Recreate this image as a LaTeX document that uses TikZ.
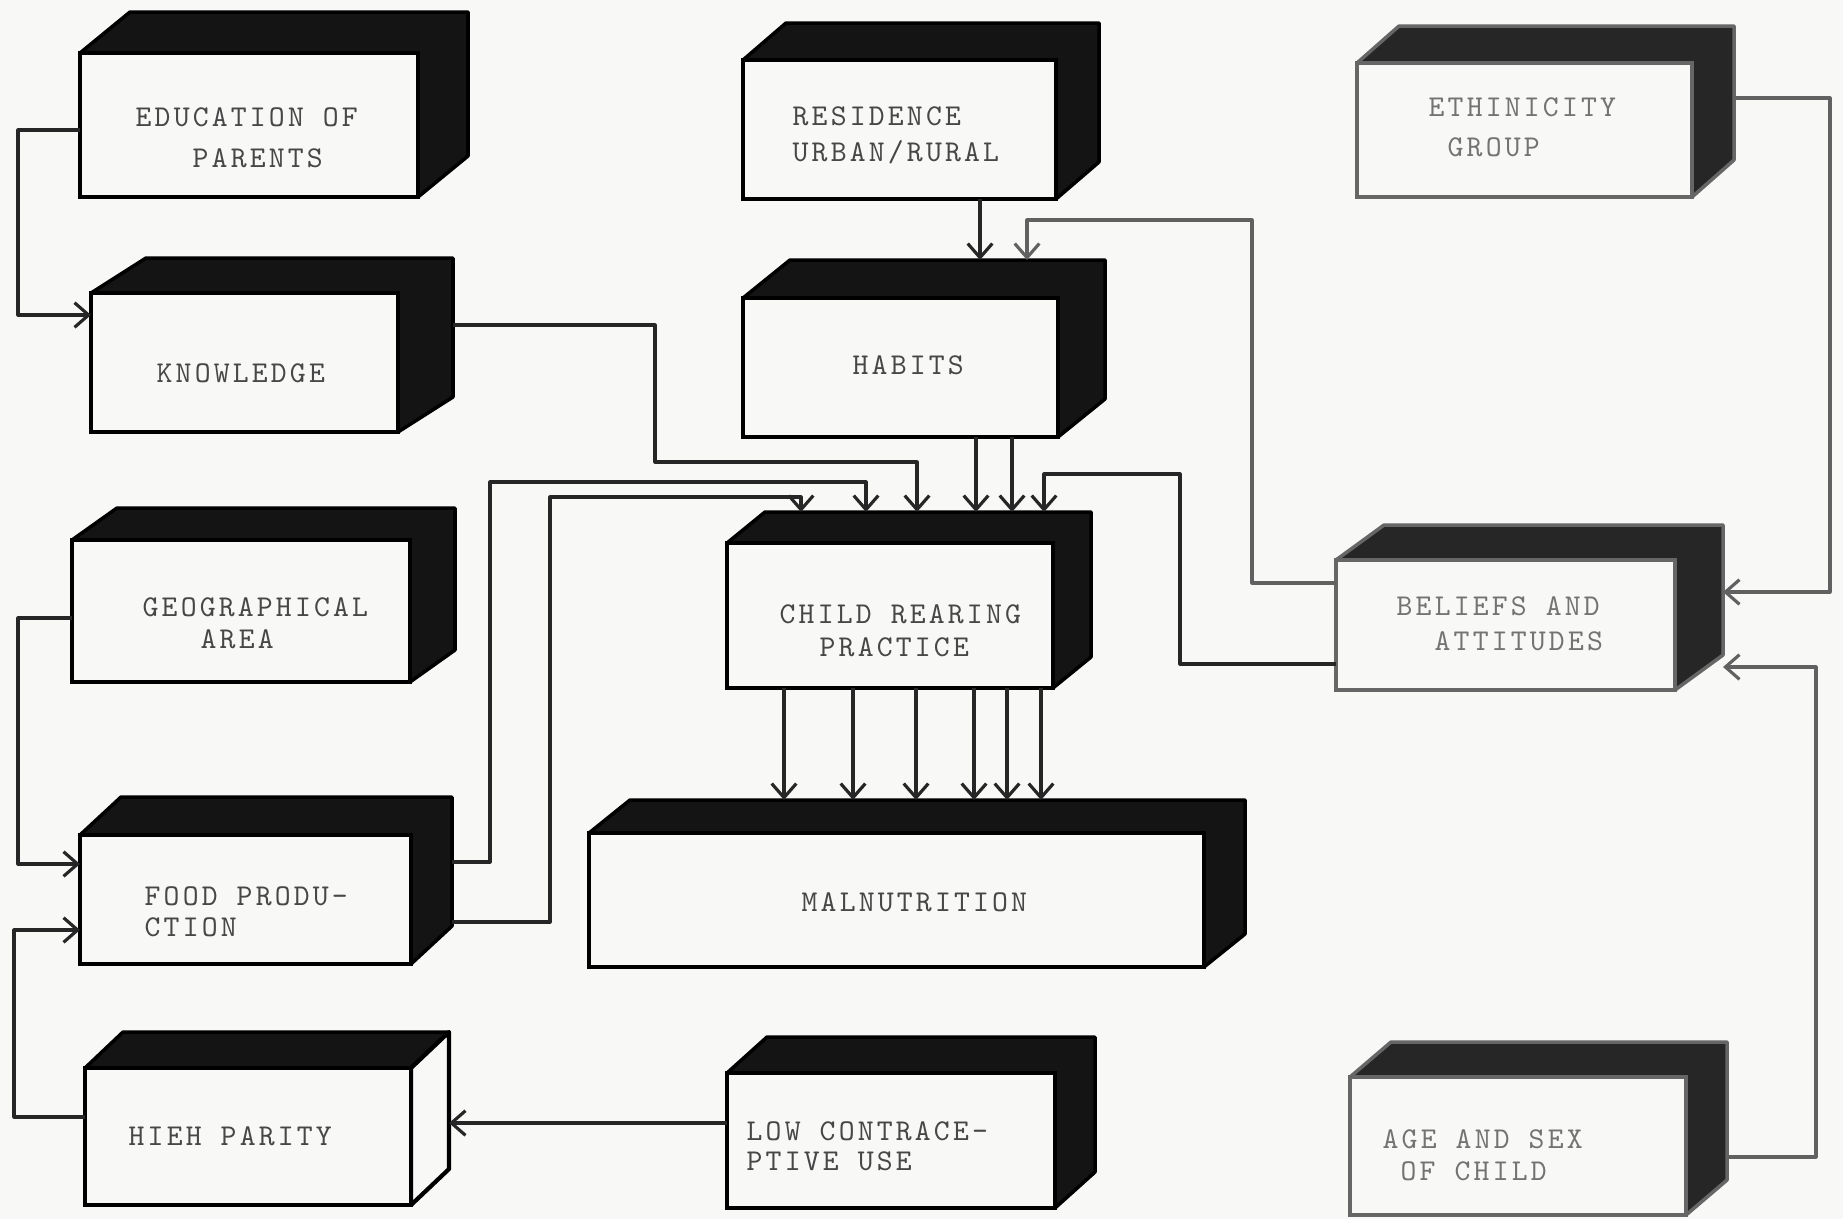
\documentclass[tikz,border=0pt]{standalone}
\usepackage{fontspec}
\newfontfamily\tw{lmmono10-regular.otf}[LetterSpace=10.5]
\usetikzlibrary{arrows.meta}
\definecolor{paper}{RGB}{248,248,247}
\tikzset{
  face/.style={fill=black!92, draw=black, line width=1pt, line join=round},
  facew/.style={fill=paper, draw=black, line width=1.2pt, line join=round},
  facegray/.style={fill=black!85, draw=black!60, line width=1pt, line join=round},
  front/.style={draw=black, fill=paper, line width=1.4pt, inner sep=0pt, outer sep=0pt},
  frontgray/.style={front, draw=black!60},
  lbl/.style={font=\tw\fontsize{8.6}{10}\selectfont, text=black!72, inner sep=0pt, anchor=base west},
  lblgray/.style={lbl, text=black!55},
  conn/.style={draw=black!85, line width=0.9pt, line join=round},
  arr/.style={conn, -{Straight Barb[length=4pt,width=7pt]}},
  arrgray/.style={arr, draw=black!62},
}
% #1 name, #2 L, #3 T, #4 R, #5 B, #6 dx, #7 dy, #8 front style
\newcommand\cubefront[8]{%
  \node[#8, minimum width={(#4-#2)*0.1mm}, minimum height={(#5-#3)*0.1mm}, anchor=north west] (#1) at (#2,#3) {};
  \coordinate (#1-r) at (#4+#6, {(#3+#5)/2-#7});
  \coordinate (#1-top) at ({(#2+#4)/2+#6}, #3-#7);
}
% solid dark box
\newcommand\cubebox[9]{%
  \filldraw[#8] (#2,#3) -- (#2+#6,#3-#7) -- (#4+#6,#3-#7) -- (#4+#6,#5-#7) -- (#4,#5) -- (#4,#3) -- cycle;
  \cubefront{#1}{#2}{#3}{#4}{#5}{#6}{#7}{#9}
}
% box with white right face
\newcommand\cubeboxw[7]{%
  \filldraw[face] (#2,#3) -- (#2+#6,#3-#7) -- (#4+#6,#3-#7) -- (#4,#3) -- cycle;
  \filldraw[facew] (#4,#3) -- (#4+#6,#3-#7) -- (#4+#6,#5-#7) -- (#4,#5) -- cycle;
  \cubefront{#1}{#2}{#3}{#4}{#5}{#6}{#7}{front}
}
\begin{document}
\begin{tikzpicture}[x=0.1mm, y=-0.1mm]
\fill[paper] (0,0) rectangle (1843,1219);
\useasboundingbox (0,0) rectangle (1843,1219);

% boxes
\cubebox{edu}{80}{53}{418}{197}{50}{41}{face}{front}
\cubebox{know}{91}{293}{398}{432}{55}{35}{face}{front}
\cubebox{res}{743}{60}{1056}{199}{43}{37}{face}{front}
\cubebox{hab}{743}{298}{1058}{437}{47}{38}{face}{front}
\cubebox{eth}{1357}{63}{1692}{197}{42}{37}{facegray}{frontgray}
\cubebox{geo}{72}{540}{410}{682}{45}{32}{face}{front}
\cubebox{crp}{727}{543}{1053}{688}{38}{31}{face}{front}
\cubebox{bel}{1336}{560}{1675}{690}{48}{35}{facegray}{frontgray}
\cubebox{food}{80}{835}{411}{964}{41}{38}{face}{front}
\cubebox{mal}{589}{833}{1204}{967}{41}{33}{face}{front}
\cubeboxw{high}{85}{1068}{411}{1205}{38}{36}
\cubebox{low}{727}{1073}{1055}{1208}{40}{36}{face}{front}
\cubebox{age}{1350}{1077}{1686}{1215}{41}{35}{facegray}{frontgray}

% labels
\node[lbl] (edu-t1) at (135,126) {EDUCATION OF};
\node[lbl] (edu-t2) at (192,167) {PARENTS};
\node[lbl] (know-t) at (156,382) {KNOWLEDGE};
\node[lbl] (res-t1) at (792,125) {RESIDENCE};
\node[lbl] (res-t2) at (792,161) {URBAN/RURAL};
\node[lbl] (hab-t) at (852,374) {HABITS};
\node[lblgray] (eth-t1) at (1428,116) {ETHINICITY};
\node[lblgray] (eth-t2) at (1447,156) {GROUP};
\node[lbl] (geo-t1) at (142,616) {GEOGRAPHICAL};
\node[lbl] (geo-t2) at (200,648) {AREA};
\node[lbl] (crp-t1) at (779,623) {CHILD REARING};
\node[lbl] (crp-t2) at (819,656) {PRACTICE};
\node[lblgray] (bel-t1) at (1396,615) {BELIEFS AND};
\node[lblgray] (bel-t2) at (1434,650) {ATTITUDES};
\node[lbl] (food-t1) at (144,905) {FOOD PRODU-};
\node[lbl] (food-t2) at (144,936) {CTION};
\node[lbl] (mal-t) at (801,911) {MALNUTRITION};
\node[lbl] (high-t) at (128,1145) {HIEH PARITY};
\node[lbl] (low-t1) at (746,1140) {LOW CONTRACE-};
\node[lbl] (low-t2) at (746,1170) {PTIVE USE};
\node[lblgray] (age-t1) at (1382,1148) {AGE AND SEX};
\node[lblgray] (age-t2) at (1400,1180) {OF CHILD};

% connectors
\draw[arr] (edu.west |- 0,130) -| (18,315) -- (know.west |- 0,315);
\draw[arr] (know-r |- 0,325) -| (655,462) -| (917,0 |- crp-top);
\draw[arr] (food-r |- 0,862) -| (490,482) -| (866,0 |- crp-top);
\draw[arr] (food-r |- 0,922) -| (550,497) -| (801,0 |- crp-top);
\draw[arr] (976,0 |- hab.south) -- (976,0 |- crp-top);
\draw[arr] (1012,0 |- hab.south) -- (1012,0 |- crp-top);
\draw[arr] (980,0 |- res.south) -- (980,0 |- hab-top);
\draw[arrgray] (bel.west |- 0,583) -| (1252,220) -| (1027,0 |- hab-top);
\draw[arr] (bel.west |- 0,664) -| (1180,474) -| (1044,0 |- crp-top);
\foreach \x in {784,853,916,974,1007,1041}
  \draw[arr] (\x,0 |- crp.south) -- (\x,0 |- mal-top);
\draw[arrgray] (eth-r |- 0,98) -| (1830,592) -- (bel-r |- 0,592);
\draw[arrgray] (age-r |- 0,1157) -| (1816,667) -- (bel-r |- 0,667);
\draw[arr] (geo.west |- 0,618) -| (18,864) -- (food.west |- 0,864);
\draw[arr] (high.west |- 0,1117) -| (14,930) -- (food.west |- 0,930);
\draw[arr] (low.west |- 0,1123) -- (high-r |- 0,1123);
\end{tikzpicture}
\end{document}
